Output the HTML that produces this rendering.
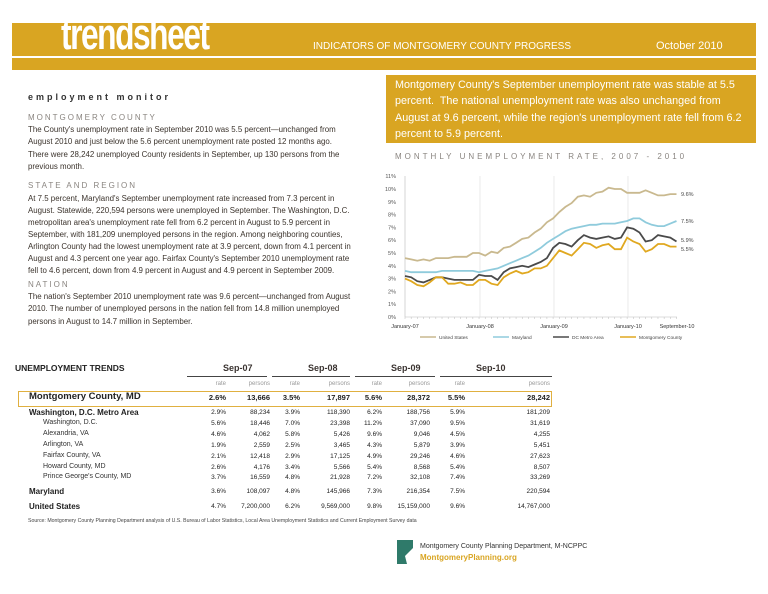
<!DOCTYPE html>
<html><head><meta charset="utf-8"><style>
*{margin:0;padding:0;box-sizing:border-box}
body{width:768px;height:594px;background:#fff;position:relative;overflow:hidden;font-family:"Liberation Sans",sans-serif;color:#3a3330}
.a{position:absolute;white-space:nowrap}
.p{font-size:7.9px;line-height:12.4px;color:#3b332c;position:absolute;left:28px;white-space:nowrap}
.h{font-size:8px;letter-spacing:2px;color:#8a8580}
</style></head><body>
<div class="a" style="left:12px;top:23px;width:744px;height:47px;background:#d9a522"></div>
<div class="a" style="left:12px;top:56px;width:744px;height:2px;background:#fff"></div>
<div class="a" style="left:61px;top:12px;font-size:44px;font-weight:bold;color:#fff;letter-spacing:-2px;transform:scaleX(0.72);transform-origin:left;line-height:46px">trendsheet</div>
<div class="a" style="left:313px;top:41px;font-size:10px;color:#fff">INDICATORS OF MONTGOMERY COUNTY PROGRESS</div>
<div class="a" style="left:656px;top:40px;font-size:11px;color:#fff">October 2010</div>
<div class="a" style="left:386px;top:75px;width:370px;height:68px;background:#d9a522"></div>
<div class="a" style="left:395px;top:77px;font-size:10.8px;line-height:16.4px;color:#fff">Montgomery County's September unemployment rate was stable at 5.5<br>percent.&nbsp; The national unemployment rate was also unchanged from<br>August at 9.6 percent, while the region's unemployment rate fell from 6.2<br>percent to 5.9 percent.</div>
<div class="a" style="left:28px;top:92px;font-size:9px;font-weight:bold;letter-spacing:3px;color:#333">employment monitor</div>
<div class="a h" style="left:28px;top:113px">MONTGOMERY COUNTY</div>
<div class="p" style="top:124px">The County's unemployment rate in September 2010 was 5.5 percent—unchanged from<br>August 2010 and just below the 5.6 percent unemployment rate posted 12 months ago.<br>There were 28,242 unemployed County residents in September, up 130 persons from the<br>previous month.</div>
<div class="a h" style="left:28px;top:181px">STATE AND REGION</div>
<div class="p" style="top:193px;line-height:12px">At 7.5 percent, Maryland's September unemployment rate increased from 7.3 percent in<br>August. Statewide, 220,594 persons were unemployed in September. The Washington, D.C.<br>metropolitan area's unemployment rate fell from 6.2 percent in August to 5.9 percent in<br>September, with 181,209 unemployed persons in the region. Among neighboring counties,<br>Arlington County had the lowest unemployment rate at 3.9 percent, down from 4.1 percent in<br>August and 4.3 percent one year ago. Fairfax County's September 2010 unemployment rate<br>fell to 4.6 percent, down from 4.9 percent in August and 4.9 percent in September 2009.</div>
<div class="a h" style="left:28px;top:280px">NATION</div>
<div class="p" style="top:291px">The nation's September 2010 unemployment rate was 9.6 percent—unchanged from August<br>2010. The number of unemployed persons in the nation fell from 14.8 million unemployed<br>persons in August to 14.7 million in September.</div>
<div class="a h" style="left:395px;top:152px;letter-spacing:3px">MONTHLY UNEMPLOYMENT RATE, 2007 - 2010</div>
<svg class="a" style="left:0;top:0" width="768" height="594" id="ch"></svg>

<div class="a" style="left:15px;top:363px;font-size:8.5px;font-weight:bold;color:#222">UNEMPLOYMENT TRENDS</div>
<div class="a" style="left:223px;top:363px;font-size:9px;font-weight:bold">Sep-07</div>
<div class="a" style="left:308px;top:363px;font-size:9px;font-weight:bold">Sep-08</div>
<div class="a" style="left:391px;top:363px;font-size:9px;font-weight:bold">Sep-09</div>
<div class="a" style="left:476px;top:363px;font-size:9px;font-weight:bold">Sep-10</div>
<div class="a" style="left:187px;top:376px;width:80px;height:1px;background:#444"></div>
<div class="a" style="left:272px;top:376px;width:78px;height:1px;background:#444"></div>
<div class="a" style="left:355px;top:376px;width:80px;height:1px;background:#444"></div>
<div class="a" style="left:440px;top:376px;width:112px;height:1px;background:#444"></div>
<div class="a" style="left:18px;top:391px;width:534px;height:16px;border:1.5px solid #e0b040"></div>
<div id="tb"></div>
<div class="a" style="left:28px;top:518px;font-size:5.2px;color:#444">Source: Montgomery County Planning Department analysis of U.S. Bureau of Labor Statistics, Local Area Unemployment Statistics and Current Employment Survey data</div>
<svg class="a" style="left:397px;top:540px" width="18" height="26"><rect width="16" height="24" fill="#2f7a6a"/><path d="M16 8 L8 16 L10 24 L16 24Z" fill="#fff"/></svg>
<div class="a" style="left:420px;top:543px;font-size:7px;color:#333">Montgomery County Planning Department, M-NCPPC</div>
<div class="a" style="left:420px;top:553px;font-size:8px;font-weight:bold;color:#d9a522">MontgomeryPlanning.org</div>
<script>
var s='';
var X0=405,PX=6.17,Y0=317,PY=12.8;
for(var i=0;i<=11;i++){var y=Y0-i*PY;s+='<text x="396" y="'+(y+2)+'" font-size="5.5" text-anchor="end" fill="#555">'+i+'%</text>';}
s+='<line x1="405" y1="176" x2="405" y2="317" stroke="#bbb" stroke-width="0.6"/><line x1="405" y1="317" x2="677" y2="317" stroke="#bbb" stroke-width="0.6"/>';
[480,554,628].forEach(function(x){s+='<line x1="'+x+'" y1="176" x2="'+x+'" y2="317" stroke="#ddd" stroke-width="0.6"/>';});
for(var m=0;m<=44;m++){s+='<line x1="'+(X0+m*PX)+'" y1="317" x2="'+(X0+m*PX)+'" y2="319" stroke="#bbb" stroke-width="0.5"/>';}
[['January-07',405],['January-08',480],['January-09',554],['January-10',628],['September-10',677]].forEach(function(a){s+='<text x="'+a[1]+'" y="328" font-size="5.5" text-anchor="middle" fill="#333">'+a[0]+'</text>';});
var D={us:[4.6,4.5,4.4,4.5,4.4,4.6,4.6,4.6,4.7,4.7,4.7,5.0,5.0,4.8,5.1,5.0,5.4,5.5,5.8,6.1,6.2,6.6,6.9,7.4,7.7,8.2,8.6,8.9,9.4,9.5,9.4,9.7,9.8,10.1,10.0,10.0,9.7,9.7,9.7,9.9,9.7,9.5,9.5,9.6,9.6],
md:[3.6,3.5,3.5,3.5,3.5,3.5,3.6,3.6,3.6,3.6,3.6,3.6,3.5,3.6,3.7,3.8,4.0,4.2,4.4,4.6,4.8,5.1,5.4,5.8,6.1,6.4,6.7,6.9,7.0,7.1,7.2,7.2,7.3,7.3,7.3,7.4,7.5,7.7,7.7,7.4,7.2,7.1,7.1,7.3,7.5],
dc:[3.2,3.1,2.8,2.7,2.9,3.1,3.1,3.0,2.9,2.9,2.9,2.9,3.3,3.2,3.2,2.9,3.5,3.8,3.9,4.0,3.9,4.1,4.3,4.6,5.4,5.8,5.7,5.5,6.0,6.4,6.2,6.1,6.2,6.3,6.1,6.2,7.0,6.9,6.6,5.9,6.0,6.4,6.3,6.2,5.9],
mc:[3.0,2.8,2.5,2.4,2.7,3.1,3.1,2.6,2.6,2.7,2.5,2.5,2.9,2.9,2.6,2.5,3.1,3.4,3.6,3.4,3.5,3.8,3.8,4.0,4.6,5.2,5.0,4.8,5.3,5.8,5.7,5.4,5.6,5.7,5.3,5.3,6.2,5.9,5.7,5.1,5.3,5.7,5.7,5.5,5.5]};
var C={us:'#c9b98f',md:'#8fcbdc',dc:'#4a4a4a',mc:'#e0a820'};
['us','md','dc','mc'].forEach(function(k){var p=D[k].map(function(v,i){return (X0+i*PX).toFixed(1)+','+(Y0-v*PY).toFixed(1)}).join(' ');s+='<polyline points="'+p+'" fill="none" stroke="'+C[k]+'" stroke-width="1.8"/>';});
[['9.6%',9.6],['7.5%',7.5],['5.9%',6.0],['5.5%',5.3]].forEach(function(a){s+='<text x="681" y="'+(Y0-a[1]*PY+2)+'" font-size="5.5" fill="#444">'+a[0]+'</text>';});
[['United States','#c9b98f',420],['Maryland','#8fcbdc',493],['DC Metro Area','#4a4a4a',553],['Montgomery County','#e0a820',620]].forEach(function(a){s+='<line x1="'+a[2]+'" y1="337" x2="'+(a[2]+16)+'" y2="337" stroke="'+a[1]+'" stroke-width="1.5"/><text x="'+(a[2]+19)+'" y="339" font-size="4.8" fill="#444">'+a[0]+'</text>';});
document.getElementById('ch').innerHTML=s;
var R=[['',385,'sm',['rate','persons','rate','persons','rate','persons','rate','persons']],
['Montgomery County, MD',398,'mc',['2.6%','13,666','3.5%','17,897','5.6%','28,372','5.5%','28,242']],
['Washington, D.C. Metro Area',413,'b',['2.9%','88,234','3.9%','118,390','6.2%','188,756','5.9%','181,209']],
['Washington, D.C.',424,'i',['5.6%','18,446','7.0%','23,398','11.2%','37,090','9.5%','31,619']],
['Alexandria, VA',435,'i',['4.6%','4,062','5.8%','5,426','9.6%','9,046','4.5%','4,255']],
['Arlington, VA',446,'i',['1.9%','2,559','2.5%','3,465','4.3%','5,879','3.9%','5,451']],
['Fairfax County, VA',457,'i',['2.1%','12,418','2.9%','17,125','4.9%','29,246','4.6%','27,623']],
['Howard County, MD',468,'i',['2.6%','4,176','3.4%','5,566','5.4%','8,568','5.4%','8,507']],
['Prince George\'s County, MD',478,'i',['3.7%','16,559','4.8%','21,928','7.2%','32,108','7.4%','33,269']],
['Maryland',492,'b',['3.6%','108,097','4.8%','145,966','7.3%','216,354','7.5%','220,594']],
['United States',507,'b',['4.7%','7,200,000','6.2%','9,569,000','9.8%','15,159,000','9.6%','14,767,000']]];
var rx=[226,270,300,350,382,430,465,550],h='';
R.forEach(function(r){var fs=r[2]=='sm'?6:(r[2]=='mc'?7.5:6.5),y=r[1]-(r[2]=='mc'?5:4);
if(r[0]){var lf=r[2]=='i'?43:29,st=r[2]=='mc'?'font-size:9.5px;font-weight:bold;color:#222':(r[2]=='b'?'font-size:8px;font-weight:bold;color:#222':'font-size:7px;color:#333');h+='<div class="a" style="left:'+lf+'px;top:'+(r[1]-(r[2]=='mc'?7:5))+'px;'+st+'">'+r[0]+'</div>';}
r[3].forEach(function(v,j){h+='<div class="a" style="left:'+(rx[j]-60)+'px;width:60px;text-align:right;top:'+y+'px;font-size:'+fs+'px;color:'+(r[2]=='sm'?'#999':'#222')+(r[2]=='mc'?';font-weight:bold':'')+'">'+v+'</div>';});});
document.getElementById('tb').innerHTML=h;
</script>
</body></html>
